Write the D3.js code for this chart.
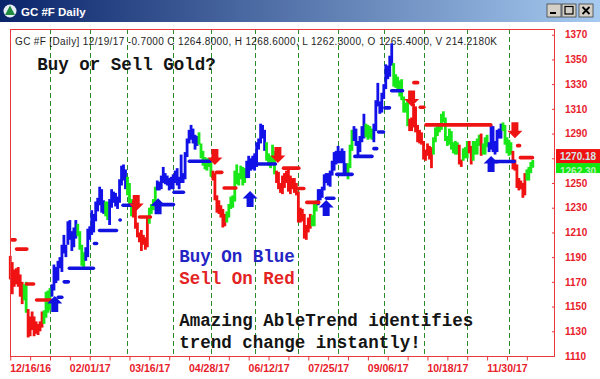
<!DOCTYPE html>
<html><head><meta charset="utf-8">
<script src="https://cdn.jsdelivr.net/npm/d3@7"></script>
<style>body{margin:0;background:#fff;overflow:hidden}svg{display:block}</style>
</head><body>
<svg id="c" width="600" height="379"></svg>
<script>
// ---------------- data ----------------
const holidays = ["2016-12-26","2017-01-02","2017-01-16","2017-02-20","2017-04-14","2017-05-29","2017-07-04","2017-09-04","2017-11-23"];
const tickLabels = ["12/16/16","02/01/17","03/16/17","04/28/17","06/12/17","07/25/17","09/06/17","10/18/17","11/30/17"];
const priceTicks = [1110,1130,1150,1170,1190,1210,1230,1250,1270,1290,1310,1330,1350,1370];
// trend colour per trading day: B = blue (up), R = red (down), G = green (neutral)
const trend =
  "RRRRRRRGGRRRRRRRRGGG" +      // Dec 16
  "GBBBBBBBBBBBBBGGGGBB" +      // Jan
  "BBBBBBBBGGBBBBBBBBB" +       // Feb
  "GGGRRRRRRRRGGGGBBBBBBBB" +   // Mar
  "BBBBBBBBBBBBBGGGGGG" +       // Apr
  "GRRRRRRRGGGGGGGGGGBBBB" +    // May
  "BBBBBBGGGGGRRRRRRRRRRR" +    // Jun
  "RRRRRRRGGGBBBBBBBBBB" +      // Jul
  "BBBBBGGGBBBBBBGGGGBBBBB" +   // Aug
  "BBBBBGGGGGGGGRRRRRRR" +      // Sep
  "RRRRRGGGGGGGGGGGGGRRGG" +    // Oct
  "GRRGGGGRGGGBBBBBBBGGG" +     // Nov
  "GGRRRRRRRGGGG";              // Dec 17
const highs = [
  1191,1186,1180,1181,1182,1176,1170,1168,1170,1148,1142,1146,1142,1138,1136,1138,1146,1147,1162,1163,
  1165,1168,1184,1182,1187,1190,1200,1208,1200,1219,1220,1211,1214,1220,1217,1211,1200,1194,1198,1213,
  1215,1228,1225,1235,1238,1247,1245,1236,1235,1235,1237,1245,1243,1242,1239,1253,1264,1265,1261,
  1255,1250,1237,1236,1230,1218,1210,1212,1208,1206,1222,1230,1233,1237,1247,1252,1251,1256,1263,1258,1256,1254,1255,
  1257,1260,1262,1255,1273,1258,1275,1286,1293,1297,1294,1289,1288,1291,1282,1276,1271,1270,1270,
  1268,1260,1258,1240,1236,1232,1229,1225,1227,1233,1239,1240,1260,1265,1258,1264,1263,1262,1268,1272,1270,1272,
  1274,1283,1286,1298,1297,1293,1283,1274,1272,1281,1276,1260,1259,1250,1256,1258,1260,1262,1256,1254,1254,1250,
  1243,1230,1229,1225,1216,1222,1225,1224,1233,1236,1245,1245,1247,1257,1258,1258,1260,1268,1275,1276,
  1280,1276,1278,1276,1266,1266,1281,1293,1296,1294,1284,1288,1296,1306,1298,1297,1296,1294,1298,1317,1331,1316,1323,
  1330,1346,1345,1353,1363,1347,1338,1336,1333,1334,1320,1315,1317,1302,1303,1314,1312,1297,1293,1291,
  1284,1277,1282,1280,1279,1287,1295,1297,1298,1306,1308,1303,1288,1294,1292,1283,1284,1283,1281,1269,1278,1279,
  1284,1284,1280,1284,1284,1286,1289,1290,1282,1287,1289,1283,1297,1296,1284,1293,1294,1298,1299,1297,1287,
  1285,1283,1276,1269,1265,1254,1252,1250,1258,1261,1263,1267,1268.6
];
const lows = [
  1172,1160,1166,1168,1166,1158,1152,1155,1145,1125,1126,1131,1126,1128,1127,1130,1133,1136,1141,1145,
  1147,1158,1163,1169,1171,1181,1178,1193,1190,1200,1204,1195,1198,1205,1207,1196,1183,1180,1187,1190,
  1204,1208,1210,1219,1227,1232,1226,1225,1223,1220,1216,1230,1234,1231,1229,1234,1248,1252,1245,
  1240,1232,1223,1222,1213,1206,1202,1195,1200,1196,1198,1217,1225,1228,1232,1244,1244,1245,1250,1249,1248,1244,1245,
  1245,1250,1248,1245,1250,1250,1253,1271,1282,1285,1282,1277,1280,1281,1270,1264,1261,1260,1263,
  1255,1252,1236,1226,1225,1222,1214,1215,1218,1222,1229,1230,1235,1249,1248,1253,1248,1250,1254,1254,1260,1261,
  1260,1263,1277,1282,1286,1276,1268,1264,1262,1265,1257,1250,1245,1242,1241,1246,1250,1243,1241,1245,1242,1240,
  1218,1218,1219,1205,1204,1210,1213,1215,1215,1227,1232,1236,1238,1244,1250,1248,1247,1256,1260,1265,
  1266,1266,1266,1257,1257,1253,1262,1276,1284,1280,1271,1275,1283,1286,1287,1285,1286,1285,1283,1292,1312,1306,1307,
  1318,1326,1334,1336,1345,1328,1327,1325,1320,1317,1307,1307,1296,1292,1292,1295,1291,1283,1282,1281,
  1269,1268,1272,1269,1262,1273,1283,1288,1291,1293,1299,1284,1280,1281,1277,1274,1273,1273,1265,1263,1268,1270,
  1270,1274,1265,1268,1273,1273,1280,1272,1273,1273,1279,1275,1277,1275,1273,1275,1286,1286,1292,1281,1274,
  1272,1273,1261,1260,1246,1244,1245,1238,1240,1252,1252,1258,1262.3
];
// trailing stop levels: [from day, to day, price]
const buyStops = [
  [23.4,26.7,1157.5],[26.4,30,1170],[29,42.6,1181],[41.6,44.2,1201],[44.2,54.2,1211.5],[54.6,56,1220],
  [56,62.8,1232],[72,82.9,1232.5],[81.7,87.9,1242.5],[89.4,101.4,1267.6],[123.4,134.2,1265.4],
  [158.4,163.6,1237.7],[163.6,172.8,1257],[172.7,182.8,1271.5],[182.3,185.2,1277.8],[184.6,188.6,1291.3],
  [187.8,191.6,1310.8],[191.2,198.2,1324.6],[241.4,254.4,1267.4]
];
const sellStops = [
  [0,3.2,1204],[2.4,9.1,1196.5],[7.4,12.5,1168.3],[12.5,20.9,1155.3],[64.3,71.3,1222.5],
  [103,107.2,1258.6],[106.9,114.3,1246],[136.8,146,1262],[144.3,148.5,1245.5],[148.5,156,1234.3],
  [202.4,205.8,1331.2],[205.6,208.9,1311.3],[208.5,242.6,1297],[254.6,257.1,1280.2],[256,263.6,1270.5]
];
// signal arrows: day and tip price
const buyArrows = [[22.4,1158.6],[74.4,1237.7],[120.7,1243.5],[159,1236.2],[242,1271.8]];
const sellArrows = [[63.4,1227.3],[103,1264.5],[134.7,1266.2],[202,1311.8],[254,1286.2]];
const lastClose = 1270.18;
const stopTag = 1262.30;
const header = "GC #F [Daily] 12/19/17 -0.7000 C 1264.8000, H 1268.6000, L 1262.3000, O 1265.4000, V 214.2180K";

// ---------------- chart ----------------
const fmtISO = d3.timeFormat("%Y-%m-%d");
const fmtLbl = d3.timeFormat("%m/%d/%y");
const days = d3.timeDays(new Date(2016,11,2), new Date(2017,11,20))
  .filter(d => d.getDay() % 6 !== 0 && !holidays.includes(fmtISO(d)));
const N = Math.min(days.length, highs.length);

const svg = d3.select("#c");
const L = 10, R = 554.5, T = 29, B = 356.5;
const x = d3.scaleLinear().domain([0, 263]).range([10.26, 532.8]);
const y = d3.scaleLinear().domain([1110, 1370]).range([356, 34.7]);
const COL = {B:"#1212e8", R:"#f01212", G:"#18e818"};

// title bar
const defs = svg.append("defs");
const g = defs.append("linearGradient").attr("id","tb");
g.append("stop").attr("offset","0%").attr("stop-color","#0a246a");
g.append("stop").attr("offset","100%").attr("stop-color","#a6caf0");
svg.append("rect").attr("x",0).attr("y",0).attr("width",600).attr("height",22).attr("fill","url(#tb)");
svg.append("circle").attr("cx",10).attr("cy",11).attr("r",6.5).attr("fill","#e8eef8");
svg.append("path").attr("d","M10,5.5 L15,15 L5,15 Z").attr("fill","#208a40");
svg.append("text").attr("x",21).attr("y",15.5).attr("fill","#fff")
  .attr("font-family","Liberation Sans, Arial").attr("font-weight","bold").attr("font-size",11.5).text("GC #F Daily");
[[547,"min"],[562,"max"],[579,"close"]].forEach(([bx,k]) => {
  svg.append("rect").attr("x",bx).attr("y",4).attr("width",14).attr("height",13)
    .attr("fill","#d4d0c8").attr("stroke","#404040").attr("stroke-width",0.8);
  if (k==="min") svg.append("rect").attr("x",bx+3).attr("y",12).attr("width",6).attr("height",2).attr("fill","#000");
  if (k==="max") svg.append("rect").attr("x",bx+3).attr("y",6.5).attr("width",8).attr("height",7.5)
      .attr("fill","none").attr("stroke","#000").attr("stroke-width",1.2);
  if (k==="close") svg.append("path").attr("d",`M${bx+3.5},7 L${bx+10.5},14 M${bx+10.5},7 L${bx+3.5},14`)
      .attr("stroke","#000").attr("stroke-width",1.8);
});

// month separator lines
const monthStarts = [];
for (let i = 1; i < N; i++) if (days[i].getMonth() !== days[i-1].getMonth()) monthStarts.push(i);
svg.append("g").selectAll("line").data(monthStarts).join("line")
  .attr("x1", d => Math.round(x(d))+0.5).attr("x2", d => Math.round(x(d))+0.5)
  .attr("y1", T).attr("y2", B)
  .attr("stroke","#2a8c2a").attr("stroke-width",1).attr("stroke-dasharray","5,3");

// header text
svg.append("text").attr("x",15).attr("y",45.3).attr("fill","#1e1e1e")
  .attr("font-family","Liberation Sans, Arial").attr("font-size",10)
  .attr("textLength",482).attr("lengthAdjust","spacing").text(header);

// bars
const bars = d3.range(N).map(i => ({i, h:highs[i], l:lows[i], c:trend[i]}));
svg.append("g").selectAll("rect").data(bars).join("rect")
  .attr("x", d => x(d.i)-1.4).attr("width", 2.8)
  .attr("y", d => y(d.h)).attr("height", d => Math.max(1.5, y(d.l)-y(d.h)))
  .attr("fill", d => COL[d.c]);

// stops
function stops(data, col){
  svg.append("g").selectAll("line").data(data).join("line")
    .attr("x1", d => x(d[0])+1.5).attr("x2", d => x(d[1])-1.5)
    .attr("y1", d => y(d[2])).attr("y2", d => y(d[2]))
    .attr("stroke", col).attr("stroke-width",3.6).attr("stroke-linecap","round");
}
stops(buyStops, "#1212e0");
stops(sellStops, "#ee1414");

// arrows
const upPath = "M0,0 L7.5,7.5 L3.5,7.5 L3.5,16 L-3.5,16 L-3.5,7.5 L-7.5,7.5 Z";
const dnPath = "M0,0 L7.5,-7.5 L3.5,-7.5 L3.5,-16 L-3.5,-16 L-3.5,-7.5 L-7.5,-7.5 Z";
svg.append("g").selectAll("path").data(buyArrows).join("path")
  .attr("transform", d => `translate(${x(d[0])},${y(d[1])})`).attr("d", upPath).attr("fill","#1212e0");
svg.append("g").selectAll("path").data(sellArrows).join("path")
  .attr("transform", d => `translate(${x(d[0])},${y(d[1])})`).attr("d", dnPath).attr("fill","#ee1414");

// plot box
svg.append("rect").attr("x",L+0.5).attr("y",T+0.5).attr("width",R-L-0.5).attr("height",B-T-0.5)
  .attr("fill","none").attr("stroke","#e8383c").attr("stroke-width",1);

// right axis (the 1270 label sits under the last-price tag, as in the reference)
const yc = y(lastClose);
const ya = svg.append("g").attr("transform",`translate(${R+0.5},0)`)
  .call(d3.axisRight(y).tickValues(priceTicks).tickSizeInner(-3).tickSizeOuter(0).tickPadding(10)
    .tickFormat(v => Math.abs(y(v) - yc) < 10 ? "" : d3.format("d")(v)));
ya.select(".domain").remove();
ya.selectAll("line").attr("stroke","#e8383c");
ya.selectAll("text").attr("fill","#e8202a").attr("font-family","Liberation Sans, Arial")
  .attr("font-weight","bold").attr("font-size",10);

// bottom axis
const labelIdx = {};
tickLabels.forEach(t => { const k = days.findIndex(d => fmtLbl(d) === t); if (k >= 0) labelIdx[k] = t; });
const xa = svg.append("g").attr("transform",`translate(0,${B})`)
  .call(d3.axisBottom(x).tickValues(d3.range(0, N, 10)).tickSizeInner(4).tickSizeOuter(0).tickPadding(4)
    .tickFormat(i => labelIdx[i] || ""));
xa.select(".domain").remove();
xa.selectAll("line").attr("stroke","#e8383c");
xa.selectAll("text").attr("fill","#e8202a").attr("font-family","Liberation Sans, Arial")
  .attr("font-weight","bold").attr("font-size",10.5);

// last price tags (green stop tag partly hidden under the red close tag)
defs.append("clipPath").attr("id","gclip").append("rect")
  .attr("x",556).attr("y",yc+5).attr("width",44).attr("height",10);
svg.append("rect").attr("x",556).attr("y",yc+5).attr("width",44).attr("height",10).attr("fill","#10e810");
svg.append("g").attr("clip-path","url(#gclip)").append("text")
  .attr("x",560).attr("y",yc+17).attr("fill","#b8f0b8").attr("font-family","Liberation Sans, Arial")
  .attr("font-weight","bold").attr("font-size",10).text(d3.format(".2f")(stopTag));
svg.append("rect").attr("x",556).attr("y",yc-9).attr("width",44).attr("height",14).attr("fill","#f01010");
svg.append("text").attr("x",560).attr("y",yc+2).attr("fill","#cfe6ea").attr("font-family","Liberation Sans, Arial")
  .attr("font-weight","bold").attr("font-size",10).text(d3.format(".2f")(lastClose));

// annotations
const mono = "Liberation Mono, Courier New, monospace";
function note(tx, ty, txt, col){
  svg.append("text").attr("x",tx).attr("y",ty).attr("fill",col).attr("font-family",mono)
    .attr("font-weight","bold").attr("font-size",17.5).attr("xml:space","preserve").text(txt);
}
note(37.3, 70, "Buy or Sell Gold?", "#141414");
note(179.3, 262, "Buy On Blue", "#2424c4");
note(179.3, 284, "Sell On Red", "#e42424");
note(179.3, 326.3, "Amazing AbleTrend identifies", "#141414");
note(179.3, 348, "trend change instantly!", "#141414");
</script>
</body></html>
